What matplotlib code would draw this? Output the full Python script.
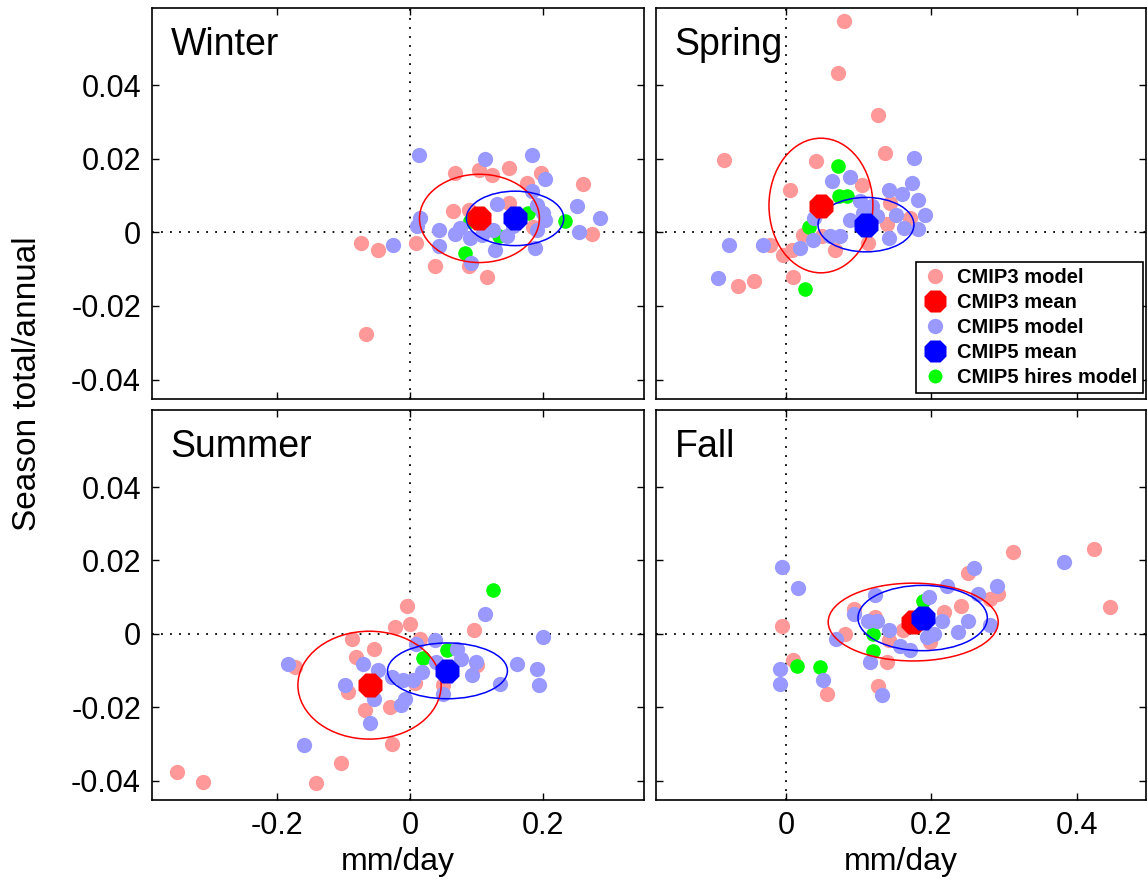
import numpy as np
import matplotlib
matplotlib.use("Agg")
from matplotlib import pyplot as plt
from matplotlib.patches import Ellipse
from matplotlib.lines import Line2D

plt.rcParams['font.family'] = ['Liberation Sans', 'DejaVu Sans']

seasons = ['Winter', 'Spring', 'Summer', 'Fall']

# model points per season (x in mm/day, y in season total/annual)
cmip3_x = {
    'Winter': [0.067, 0.103, 0.123, 0.149, 0.197, 0.175, 0.259, 0.064, 0.088, 0.148, 0.184, 0.273,
               -0.074, -0.048, 0.009, 0.038, 0.088, 0.115, -0.066],
    'Spring': [0.080, 0.071, 0.126, 0.136, -0.085, 0.041, 0.005, 0.104, 0.143, 0.139, 0.171, 0.113,
               0.067, 0.049, -0.022, -0.004, 0.008, 0.010, -0.066, -0.044, 0.024],
    'Summer': [-0.005, -0.023, 0.000, -0.088, -0.055, -0.081, 0.096, 0.015, -0.173, -0.093, -0.068,
               -0.030, 0.050, 0.100, -0.027, -0.350, -0.311, -0.141, -0.104, 0.008],
    'Fall': [0.312, 0.424, 0.446, -0.005, 0.251, 0.292, 0.281, 0.241, 0.093, 0.081, 0.141, 0.139,
             0.009, 0.056, 0.126, 0.217, 0.198, 0.161, 0.123],
}
cmip3_y = {
    'Winter': [0.0162, 0.0169, 0.0156, 0.0175, 0.0162, 0.0134, 0.0132, 0.0059, 0.0062, 0.0080, 0.0015,
               -0.0004, -0.0029, -0.0047, -0.0029, -0.0091, -0.0091, -0.0120, -0.0276],
    'Spring': [0.0574, 0.0434, 0.0318, 0.0216, 0.0198, 0.0193, 0.0116, 0.0130, 0.0080, 0.0023, 0.0039,
               -0.0029, -0.0047, -0.0011, -0.0033, -0.0061, -0.0047, -0.0120, -0.0147, -0.0131, -0.0006],
    'Summer': [0.0077, 0.0018, 0.0027, -0.0014, -0.0041, -0.0064, 0.0011, -0.0014, -0.0091, -0.0159,
               -0.0208, -0.0199, -0.0140, -0.0086, -0.0300, -0.0376, -0.0403, -0.0407, -0.0351, -0.0134],
    'Fall': [0.0222, 0.0231, 0.0072, 0.0020, 0.0167, 0.0109, 0.0095, 0.0077, 0.0068, 0.0000, -0.0018,
             -0.0077, -0.0071, -0.0163, -0.0143, 0.0059, -0.0023, 0.0009, 0.0045],
}
cmip5_x = {
    'Winter': [0.014, 0.112, 0.183, 0.202, 0.183, 0.190, 0.200, 0.203, 0.250, 0.285, 0.253, 0.131,
               0.015, 0.011, 0.044, 0.044, 0.068, 0.090, 0.108, 0.125, 0.145, 0.128, 0.190, 0.188,
               -0.026, 0.092, 0.155, 0.075],
    'Spring': [0.176, 0.063, 0.088, 0.142, 0.159, 0.173, 0.181, 0.191, 0.182, 0.162, 0.151, 0.142,
               0.102, 0.118, 0.088, 0.125, 0.106, 0.038, 0.060, 0.074, 0.037, 0.019, -0.078, -0.032,
               -0.093],
    'Summer': [0.200, 0.113, -0.183, -0.071, -0.098, -0.055, -0.061, -0.013, -0.008, -0.048, -0.028,
               -0.010, 0.005, 0.018, 0.009, 0.038, 0.070, 0.039, 0.099, 0.093, 0.135, 0.049, 0.160,
               0.190, 0.193, -0.160, 0.076],
    'Fall': [0.383, -0.005, 0.017, 0.258, 0.290, 0.264, 0.221, 0.251, 0.237, 0.281, 0.123, 0.093,
             0.113, 0.125, 0.141, 0.069, 0.157, 0.171, 0.115, -0.008, -0.009, 0.051, 0.132, 0.197,
             0.214, 0.203, 0.194],
}
cmip5_y = {
    'Winter': [0.0209, 0.0200, 0.0209, 0.0145, 0.0112, 0.0075, 0.0053, 0.0035, 0.0071, 0.0039, 0.0000,
               0.0078, 0.0039, 0.0016, 0.0007, -0.0038, -0.0004, -0.0015, -0.0006, 0.0007, -0.0011,
               -0.0047, 0.0007, -0.0043, -0.0034, -0.0083, 0.0016, 0.0012],
    'Spring': [0.0202, 0.0139, 0.0150, 0.0116, 0.0103, 0.0134, 0.0089, 0.0048, 0.0009, 0.0012, 0.0048,
               -0.0014, 0.0084, 0.0071, 0.0035, 0.0044, 0.0053, 0.0039, -0.0011, -0.0009, -0.0020,
               -0.0043, -0.0033, -0.0033, -0.0124],
    'Summer': [-0.0009, 0.0054, -0.0081, -0.0081, -0.0140, -0.0177, -0.0244, -0.0195, -0.0177, -0.0100,
               -0.0118, -0.0127, -0.0127, -0.0104, -0.0027, -0.0018, -0.0041, -0.0077, -0.0077, -0.0113,
               -0.0136, -0.0163, -0.0081, -0.0095, -0.0140, -0.0303, -0.0069],
    'Fall': [0.0197, 0.0183, 0.0125, 0.0178, 0.0131, 0.0109, 0.0131, 0.0036, 0.0004, 0.0023, 0.0107,
             0.0054, 0.0036, 0.0036, 0.0009, -0.0014, -0.0032, -0.0043, -0.0077, -0.0095, -0.0136,
             -0.0127, -0.0168, 0.0101, 0.0036, 0.0000, -0.0009],
}
hires_x = {
    'Winter': [0.232, 0.083, 0.177, 0.090, 0.133],
    'Spring': [0.071, 0.073, 0.084, 0.031, 0.026],
    'Summer': [0.125, 0.019, 0.055],
    'Fall': [0.119, 0.119, 0.015, 0.047, 0.188],
}
hires_y = {
    'Winter': [0.0030, -0.0056, 0.0053, 0.0030, -0.0011],
    'Spring': [0.0180, 0.0098, 0.0098, 0.0015, -0.0154],
    'Summer': [0.0119, -0.0066, -0.0045],
    'Fall': [0.0000, -0.0047, -0.0088, -0.0091, 0.0090],
}

# ensemble means
mean3_x = [0.104, 0.048, -0.061, 0.175]
mean3_y = [0.0038, 0.0073, -0.0140, 0.0032]
mean5_x = [0.1575, 0.110, 0.056, 0.188]
mean5_y = [0.0038, 0.0021, -0.0101, 0.0043]

# spread ellipses (semi axes) around the means
ell3_ax = [0.090, 0.0715, 0.1075, 0.117]
ell3_ay = [0.0120, 0.0183, 0.0147, 0.0106]
ell5_ax = [0.073, 0.066, 0.090, 0.089]
ell5_ay = [0.0074, 0.0074, 0.0076, 0.0089]

xticks_left = [-0.2, 0, 0.2]
xlabels_left = ['-0.2', '0', '0.2']
xticks_right = [0, 0.2, 0.4]
xlabels_right = ['0', '0.2', '0.4']
yticks = [-0.04, -0.02, 0, 0.02, 0.04]
ylabels = ['-0.04', '-0.02', '0', '0.02', '0.04']

c3 = '#ff9999'
c5 = '#9999ff'
cg = '#00ff00'

W, H = 1148, 886
fig = plt.figure(figsize=(W / 100, H / 100), dpi=100)


def box(l, t, r, b):
    return [l / W, 1 - b / H, (r - l) / W, (b - t) / H]


rects = [box(152, 8, 644, 399), box(656, 8, 1146, 399),
         box(152, 410, 644, 800), box(656, 410, 1146, 800)]

for i, s in enumerate(seasons):
    ax = fig.add_axes(rects[i])
    left = i % 2 == 0
    bottom = i >= 2

    ax.axhline(0, color='k', lw=1.3, ls=(0, (1, 4)), zorder=1)
    ax.axvline(0, color='k', lw=1.3, ls=(0, (1, 4)), zorder=1)

    ax.plot(cmip3_x[s], cmip3_y[s], 'o', color=c3, ms=11, mec='none', zorder=2)
    ax.plot(hires_x[s], hires_y[s], 'o', color=cg, ms=10.5, mec='none', zorder=3)
    ax.plot(cmip5_x[s], cmip5_y[s], 'o', color=c5, ms=11, mec='none', zorder=4)

    ax.add_patch(Ellipse((mean3_x[i], mean3_y[i]), 2 * ell3_ax[i], 2 * ell3_ay[i],
                         fill=False, ec='red', lw=1.1, zorder=5))
    ax.add_patch(Ellipse((mean5_x[i], mean5_y[i]), 2 * ell5_ax[i], 2 * ell5_ay[i],
                         fill=False, ec='blue', lw=1.1, zorder=5))

    ax.plot(mean3_x[i], mean3_y[i], '8', color='red', ms=18, mec='none', zorder=6)
    ax.plot(mean5_x[i], mean5_y[i], '8', color='blue', ms=18, mec='none', zorder=7)

    if left:
        ax.set_xlim(-0.3875, 0.351)
        ax.set_xticks(xticks_left, xlabels_left)
    else:
        ax.set_xlim(-0.179, 0.4954)
        ax.set_xticks(xticks_right, xlabels_right)
    ax.set_ylim(-0.0453, 0.061)
    ax.set_yticks(yticks, ylabels)

    ax.tick_params(direction='in', length=5, width=1, top=True, right=True,
                   labelsize=22, pad=8)
    if not bottom:
        ax.tick_params(labelbottom=False)
    else:
        ax.set_xlabel('mm/day', fontsize=23, labelpad=4)
    if not left:
        ax.tick_params(labelleft=False)
    for sp in ax.spines.values():
        sp.set_linewidth(1.2)

    ax.text(0.038, 0.88, s, transform=ax.transAxes, fontsize=27, va='baseline')

    if s == 'Spring':
        handles = [
            Line2D([], [], ls='none', marker='o', color=c3, ms=11, mec='none'),
            Line2D([], [], ls='none', marker='8', color='red', ms=17, mec='none'),
            Line2D([], [], ls='none', marker='o', color=c5, ms=11, mec='none'),
            Line2D([], [], ls='none', marker='8', color='blue', ms=17, mec='none'),
            Line2D([], [], ls='none', marker='o', color=cg, ms=10, mec='none'),
        ]
        names = ['CMIP3 model', 'CMIP3 mean', 'CMIP5 model', 'CMIP5 mean', 'CMIP5 hires model']
        leg = ax.legend(handles, names, loc='lower right', bbox_to_anchor=(0.994, 0.015),
                        borderaxespad=0, fancybox=False, edgecolor='k', framealpha=1,
                        prop={'weight': 'bold', 'size': 14.5}, handlelength=1.2,
                        handletextpad=0.5, labelspacing=0.3, borderpad=0.3)
        leg.get_frame().set_linewidth(1.2)
        leg.set_zorder(10)

fig.text(0.024, 1 - 384 / H, 'Season total/annual', rotation=90, fontsize=24,
         ha='center', va='center')

fig.savefig('out.png', dpi=100)
